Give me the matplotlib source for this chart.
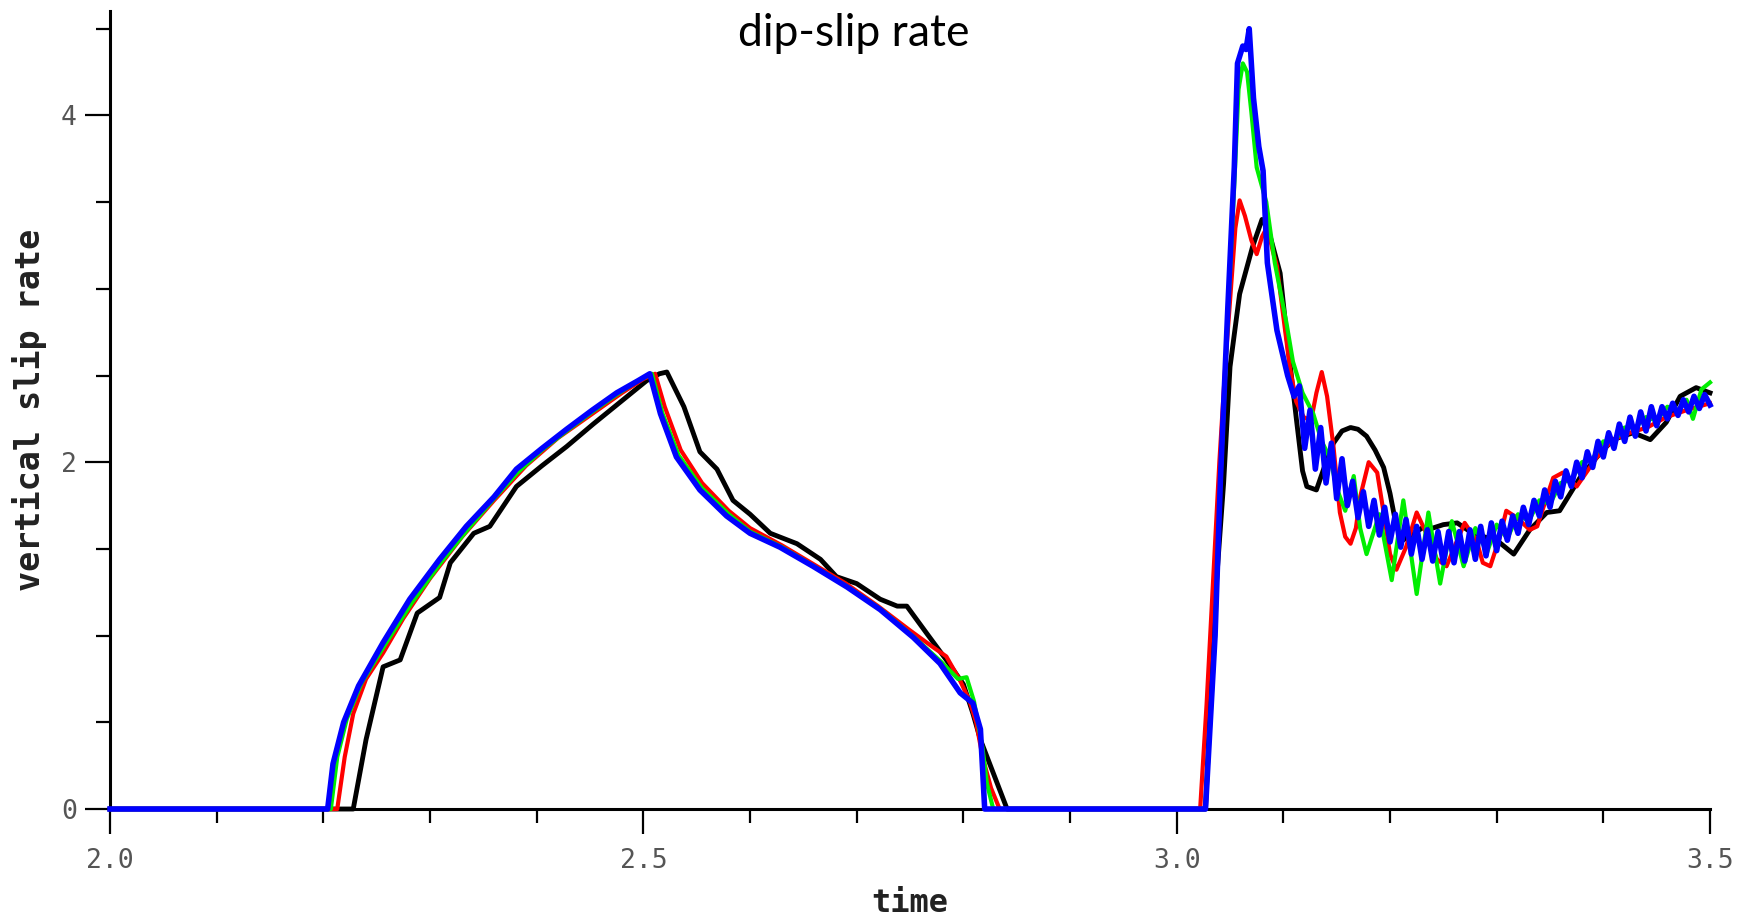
import matplotlib
matplotlib.use("Agg")
import matplotlib.pyplot as plt
from matplotlib.ticker import MultipleLocator

# --- data: time and vertical slip rate per curve ---
black_t = [2.000, 2.228, 2.240, 2.256, 2.272, 2.288, 2.309, 2.319, 2.341, 2.356,
           2.381, 2.405, 2.428, 2.453, 2.475, 2.491, 2.503, 2.515, 2.522, 2.538,
           2.553, 2.569, 2.584, 2.600, 2.619, 2.644, 2.666, 2.681, 2.700, 2.722,
           2.738, 2.747, 2.766, 2.784, 2.800, 2.809, 2.816, 2.841, 3.027, 3.036,
           3.044, 3.050, 3.059, 3.071, 3.080, 3.086, 3.097, 3.103, 3.112, 3.118,
           3.122, 3.131, 3.140, 3.147, 3.155, 3.163, 3.170, 3.178, 3.186, 3.194,
           3.200, 3.205, 3.212, 3.220, 3.230, 3.240, 3.250, 3.263, 3.275, 3.288,
           3.300, 3.316, 3.331, 3.347, 3.359, 3.369, 3.378, 3.394, 3.409, 3.428,
           3.444, 3.459, 3.472, 3.487, 3.500]
black_v = [0, 0, 0.40, 0.82, 0.86, 1.13, 1.22, 1.42, 1.59, 1.63,
           1.86, 1.98, 2.09, 2.22, 2.33, 2.41, 2.47, 2.51, 2.52, 2.32,
           2.06, 1.96, 1.78, 1.70, 1.59, 1.53, 1.44, 1.34, 1.30, 1.21,
           1.17, 1.17, 1.01, 0.86, 0.72, 0.55, 0.40, 0, 0, 1.20,
           1.88, 2.55, 2.97, 3.24, 3.40, 3.34, 3.09, 2.74, 2.26, 1.95,
           1.86, 1.84, 2.00, 2.11, 2.18, 2.20, 2.19, 2.15, 2.07, 1.97,
           1.82, 1.66, 1.55, 1.58, 1.62, 1.62, 1.64, 1.65, 1.60, 1.57,
           1.55, 1.47, 1.61, 1.71, 1.72, 1.82, 1.91, 2.03, 2.13, 2.17,
           2.13, 2.23, 2.38, 2.43, 2.40]

red_t = [2.000, 2.213, 2.220, 2.228, 2.240, 2.256, 2.275, 2.300, 2.330, 2.360,
         2.390, 2.420, 2.450, 2.480, 2.500, 2.511, 2.520, 2.535, 2.555, 2.580,
         2.600, 2.630, 2.660, 2.690, 2.720, 2.750, 2.770, 2.784, 2.797, 2.806,
         2.812, 2.818, 2.826, 2.834, 3.022, 3.028, 3.034, 3.040, 3.046, 3.050,
         3.055, 3.059, 3.064, 3.070, 3.075, 3.080, 3.085, 3.090, 3.094, 3.100,
         3.106, 3.112, 3.119, 3.126, 3.131, 3.136, 3.141, 3.147, 3.153, 3.158,
         3.163, 3.168, 3.172, 3.180, 3.188, 3.194, 3.200, 3.206, 3.215, 3.225,
         3.234, 3.244, 3.253, 3.263, 3.270, 3.281, 3.287, 3.294, 3.303, 3.309,
         3.319, 3.331, 3.338, 3.347, 3.353, 3.362, 3.375, 3.384, 3.394, 3.409,
         3.425, 3.441, 3.459, 3.478, 3.500]
red_v = [0, 0, 0.30, 0.55, 0.75, 0.90, 1.10, 1.33, 1.57, 1.78,
         1.98, 2.14, 2.27, 2.40, 2.48, 2.51, 2.32, 2.07, 1.88, 1.72,
         1.62, 1.52, 1.41, 1.30, 1.17, 1.03, 0.94, 0.88, 0.74, 0.62,
         0.50, 0.30, 0.12, 0, 0, 0.60, 1.30, 2.00, 2.60, 2.93,
         3.35, 3.51, 3.42, 3.28, 3.20, 3.30, 3.36, 3.22, 3.13, 2.84,
         2.55, 2.35, 2.26, 2.24, 2.40, 2.52, 2.38, 2.09, 1.71, 1.57,
         1.53, 1.62, 1.80, 2.00, 1.94, 1.71, 1.47, 1.38, 1.51, 1.71,
         1.59, 1.44, 1.40, 1.55, 1.65, 1.55, 1.42, 1.40, 1.57, 1.72,
         1.68, 1.61, 1.63, 1.80, 1.91, 1.94, 1.86, 1.94, 2.03, 2.13,
         2.17, 2.20, 2.26, 2.30, 2.34]

green_t = [2.000, 2.207, 2.213, 2.222, 2.236, 2.258, 2.283, 2.310, 2.335, 2.360,
           2.382, 2.405, 2.428, 2.452, 2.475, 2.495, 2.508, 2.518, 2.533, 2.555,
           2.580, 2.600, 2.630, 2.660, 2.692, 2.723, 2.754, 2.779, 2.795, 2.803,
           2.810, 2.818, 2.822, 2.828, 3.027, 3.036, 3.041, 3.048, 3.054, 3.058,
           3.062, 3.066, 3.070, 3.075, 3.084, 3.092, 3.103, 3.109, 3.118, 3.128,
           3.136, 3.144, 3.150, 3.158, 3.166, 3.172, 3.178, 3.190, 3.2016, 3.2125,
           3.225, 3.236, 3.247, 3.258, 3.269, 3.280, 3.291, 3.300, 3.310, 3.320,
           3.330, 3.340, 3.350, 3.360, 3.370, 3.380, 3.390, 3.400, 3.410, 3.420,
           3.430, 3.440, 3.450, 3.460, 3.470, 3.478, 3.484, 3.492, 3.500]
green_v = [0, 0, 0.30, 0.52, 0.73, 0.95, 1.19, 1.42, 1.61, 1.79,
           1.94, 2.07, 2.18, 2.29, 2.39, 2.47, 2.51, 2.28, 2.04, 1.85,
           1.70, 1.60, 1.51, 1.40, 1.28, 1.15, 0.99, 0.85, 0.75, 0.76,
           0.62, 0.35, 0.15, 0, 0, 1.00, 1.90, 2.85, 3.60, 4.15,
           4.30, 4.25, 4.02, 3.70, 3.50, 3.15, 2.80, 2.58, 2.40, 2.28,
           2.12, 2.02, 1.85, 1.72, 1.92, 1.62, 1.47, 1.70, 1.32, 1.78,
           1.24, 1.71, 1.30, 1.66, 1.40, 1.62, 1.48, 1.64, 1.56, 1.70,
           1.66, 1.78, 1.76, 1.88, 1.90, 2.00, 2.02, 2.12, 2.12, 2.20,
           2.20, 2.26, 2.24, 2.32, 2.30, 2.36, 2.25, 2.42, 2.46]

blue_t = [2.000, 2.204, 2.209, 2.219, 2.233, 2.256, 2.281, 2.309, 2.334, 2.360,
          2.381, 2.405, 2.428, 2.452, 2.475, 2.495, 2.506, 2.516, 2.531, 2.553,
          2.578, 2.600, 2.628, 2.659, 2.691, 2.722, 2.753, 2.778, 2.797, 2.809,
          2.816, 2.820, 3.027, 3.036, 3.041, 3.048, 3.054, 3.057, 3.062, 3.065,
          3.068, 3.072, 3.077, 3.081, 3.085, 3.094, 3.104, 3.110,
          3.115, 3.120, 3.125, 3.130, 3.135, 3.140, 3.145, 3.150, 3.155, 3.160,
          3.165, 3.170, 3.175, 3.180, 3.185, 3.190, 3.195, 3.200, 3.205, 3.210,
          3.215, 3.220, 3.225, 3.230, 3.235, 3.240, 3.245, 3.250, 3.255, 3.260,
          3.265, 3.270, 3.275, 3.280, 3.285, 3.290, 3.295, 3.300, 3.305, 3.310,
          3.315, 3.320, 3.325, 3.330, 3.335, 3.340, 3.345, 3.350, 3.355, 3.360,
          3.365, 3.370, 3.375, 3.380, 3.385, 3.390, 3.395, 3.400, 3.405, 3.410,
          3.415, 3.420, 3.425, 3.430, 3.435, 3.440, 3.445, 3.450, 3.455, 3.460,
          3.465, 3.470, 3.475, 3.480, 3.485, 3.490, 3.495, 3.500]
blue_v = [0, 0, 0.26, 0.50, 0.71, 0.96, 1.21, 1.44, 1.63, 1.80,
          1.96, 2.08, 2.19, 2.30, 2.40, 2.47, 2.51, 2.28, 2.03, 1.84,
          1.69, 1.59, 1.51, 1.40, 1.28, 1.15, 0.99, 0.84, 0.67, 0.61,
          0.46, 0, 0, 1.00, 1.90, 2.90, 3.70, 4.30, 4.40, 4.38,
          4.50, 4.10, 3.82, 3.68, 3.15, 2.76, 2.50, 2.38,
          2.44, 2.08, 2.30, 1.96, 2.20, 1.88, 2.11, 1.79, 2.02, 1.75,
          1.89, 1.68, 1.83, 1.63, 1.78, 1.58, 1.74, 1.54, 1.70, 1.51,
          1.67, 1.47, 1.63, 1.44, 1.61, 1.43, 1.60, 1.42, 1.60, 1.42,
          1.60, 1.43, 1.61, 1.44, 1.63, 1.46, 1.65, 1.49, 1.66, 1.55,
          1.69, 1.59, 1.74, 1.64, 1.78, 1.69, 1.84, 1.74, 1.89, 1.80,
          1.95, 1.86, 2.00, 1.91, 2.06, 1.97, 2.12, 2.03, 2.17, 2.08,
          2.22, 2.12, 2.26, 2.15, 2.29, 2.18, 2.32, 2.21, 2.32, 2.25,
          2.34, 2.27, 2.36, 2.29, 2.38, 2.31, 2.39, 2.33]

x_ticks = [2.0, 2.5, 3.0, 3.5]
x_tick_labels = ["2.0", "2.5", "3.0", "3.5"]
y_ticks = [0, 2, 4]
y_tick_labels = ["0", "2", "4"]

fig = plt.figure(figsize=(17.58, 9.16), dpi=100)
ax = fig.add_axes([0.0626, 0.1168, 0.9101, 0.8708])

ax.plot(black_t, black_v, color="black", lw=3.5, zorder=3, clip_on=False)
ax.plot(red_t, red_v, color="#ff0000", lw=3.0, zorder=4, clip_on=False)
ax.plot(green_t, green_v, color="#00ee00", lw=3.0, zorder=5, clip_on=False)
ax.plot(blue_t, blue_v, color="#0000ff", lw=4.0, zorder=6, clip_on=False)

ax.set_xlim(2.0, 3.5)
ax.set_ylim(0, 4.6)

for s in ["top", "right"]:
    ax.spines[s].set_visible(False)
for s in ["left", "bottom"]:
    ax.spines[s].set_linewidth(2.2)

ax.set_xticks(x_ticks)
ax.set_xticklabels(x_tick_labels)
ax.set_yticks(y_ticks)
ax.set_yticklabels(y_tick_labels)
ax.xaxis.set_minor_locator(MultipleLocator(0.1))
ax.yaxis.set_minor_locator(MultipleLocator(0.5))
ax.tick_params(which="major", direction="out", length=18, width=1.6,
               labelsize=19, labelcolor="#555555")
ax.tick_params(axis="x", which="major", pad=10)
ax.tick_params(axis="y", which="major", pad=6)
ax.tick_params(which="minor", direction="out", length=10, width=1.6)
for lab in ax.get_xticklabels() + ax.get_yticklabels():
    lab.set_family("DejaVu Sans Mono")

ax.set_xlabel("time", fontsize=23, fontweight="bold", family="DejaVu Sans Mono",
              color="#222222", labelpad=10)
ax.set_ylabel("vertical slip rate", fontsize=24, fontweight="bold",
              family="DejaVu Sans Mono", color="#222222", labelpad=10)

fig.text(854 / 1758, 1 - 34 / 916, "dip-slip rate", fontsize=32, family="Lato",
         ha="center", va="center", color="black")

fig.savefig("out.png", dpi=100)
